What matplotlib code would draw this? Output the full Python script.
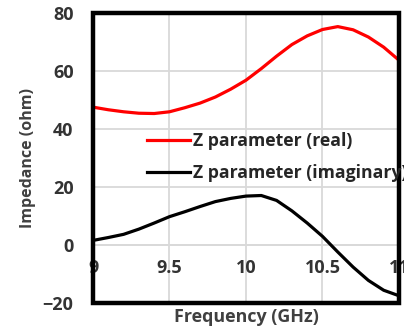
import matplotlib
matplotlib.use("Agg")
import matplotlib.pyplot as plt
from matplotlib.patches import Rectangle

plt.rcParams['font.family'] = ['Open Sans', 'DejaVu Sans']

# frequency sweep (GHz) and the two impedance curves (ohm)
freq = [9.0, 9.1, 9.2, 9.3, 9.4, 9.5, 9.6, 9.7, 9.8, 9.9, 10.0,
        10.1, 10.2, 10.3, 10.4, 10.5, 10.6, 10.7, 10.8, 10.9, 11.0]
z_real = [47.6, 46.7, 46.0, 45.5, 45.4, 46.0, 47.4, 49.0, 51.1, 53.8, 56.9,
          60.9, 65.2, 69.2, 72.2, 74.4, 75.4, 74.3, 71.8, 68.3, 63.8]
z_imag = [1.6, 2.6, 3.7, 5.5, 7.6, 9.8, 11.5, 13.3, 15.0, 16.1, 16.9,
          17.1, 15.4, 11.8, 7.6, 3.0, -2.4, -7.6, -12.2, -15.6, -17.5]

xticks = [9, 9.5, 10, 10.5, 11]
xtick_labels = ['9', '9.5', '10', '10.5', '11']
yticks = [-20, 0, 20, 40, 60, 80]

fig = plt.figure(figsize=(4.04, 3.27), dpi=100)
ax = fig.add_axes([0.2302, 0.0734, 0.7574, 0.886])

ax.plot(freq, z_real, color='#ff0000', lw=2.3, label='Z parameter (real)', zorder=3)
ax.plot(freq, z_imag, color='black', lw=2.3, label='Z parameter (imaginary)', zorder=3)

ax.set_xlim(9, 11)
ax.set_ylim(-20, 80)
ax.set_xticks(xticks)
ax.set_xticklabels(xtick_labels)
ax.set_yticks(yticks)

# grid like excel
ax.grid(True, color='#d9d9d9', lw=1.3)
ax.set_axisbelow(True)

# x axis crosses at zero, labels sit under that line
for s in ['top', 'right', 'left']:
    ax.spines[s].set_visible(False)
ax.spines['bottom'].set_position(('data', 0))
ax.spines['bottom'].set_color('#d9d9d9')
ax.spines['bottom'].set_linewidth(1.3)

ax.tick_params(axis='both', length=0, labelsize=13, labelcolor='#333333')
ax.tick_params(axis='x', pad=10)
ax.tick_params(axis='y', pad=14)
for lab in ax.get_xticklabels() + ax.get_yticklabels():
    lab.set_fontweight('bold')

# thick black border of plot area
ax.add_patch(Rectangle((0, 0), 1, 1, transform=ax.transAxes, fill=False,
                       edgecolor='black', lw=3.2, clip_on=False, zorder=5))

ax.set_xlabel('Frequency (GHz)', fontsize=12.9, fontweight='bold', color='#404040')
ax.set_ylabel('Impedance (ohm)', fontsize=11.5, fontweight='bold', color='#404040')
ax.xaxis.set_label_coords(0.5, -0.018)
ax.yaxis.set_label_coords(-0.185, 0.5)

leg = ax.legend(loc='upper left', bbox_to_anchor=(147 / 404, 1 - 132 / 327),
                bbox_transform=fig.transFigure, frameon=False, borderpad=0,
                borderaxespad=0, handlelength=2.45, handletextpad=0.15,
                labelspacing=0.8, prop={'size': 12.7, 'weight': 'bold'})
for t in leg.get_texts():
    t.set_color('#262626')
leg.set_zorder(6)

fig.savefig('out.png', dpi=100)
